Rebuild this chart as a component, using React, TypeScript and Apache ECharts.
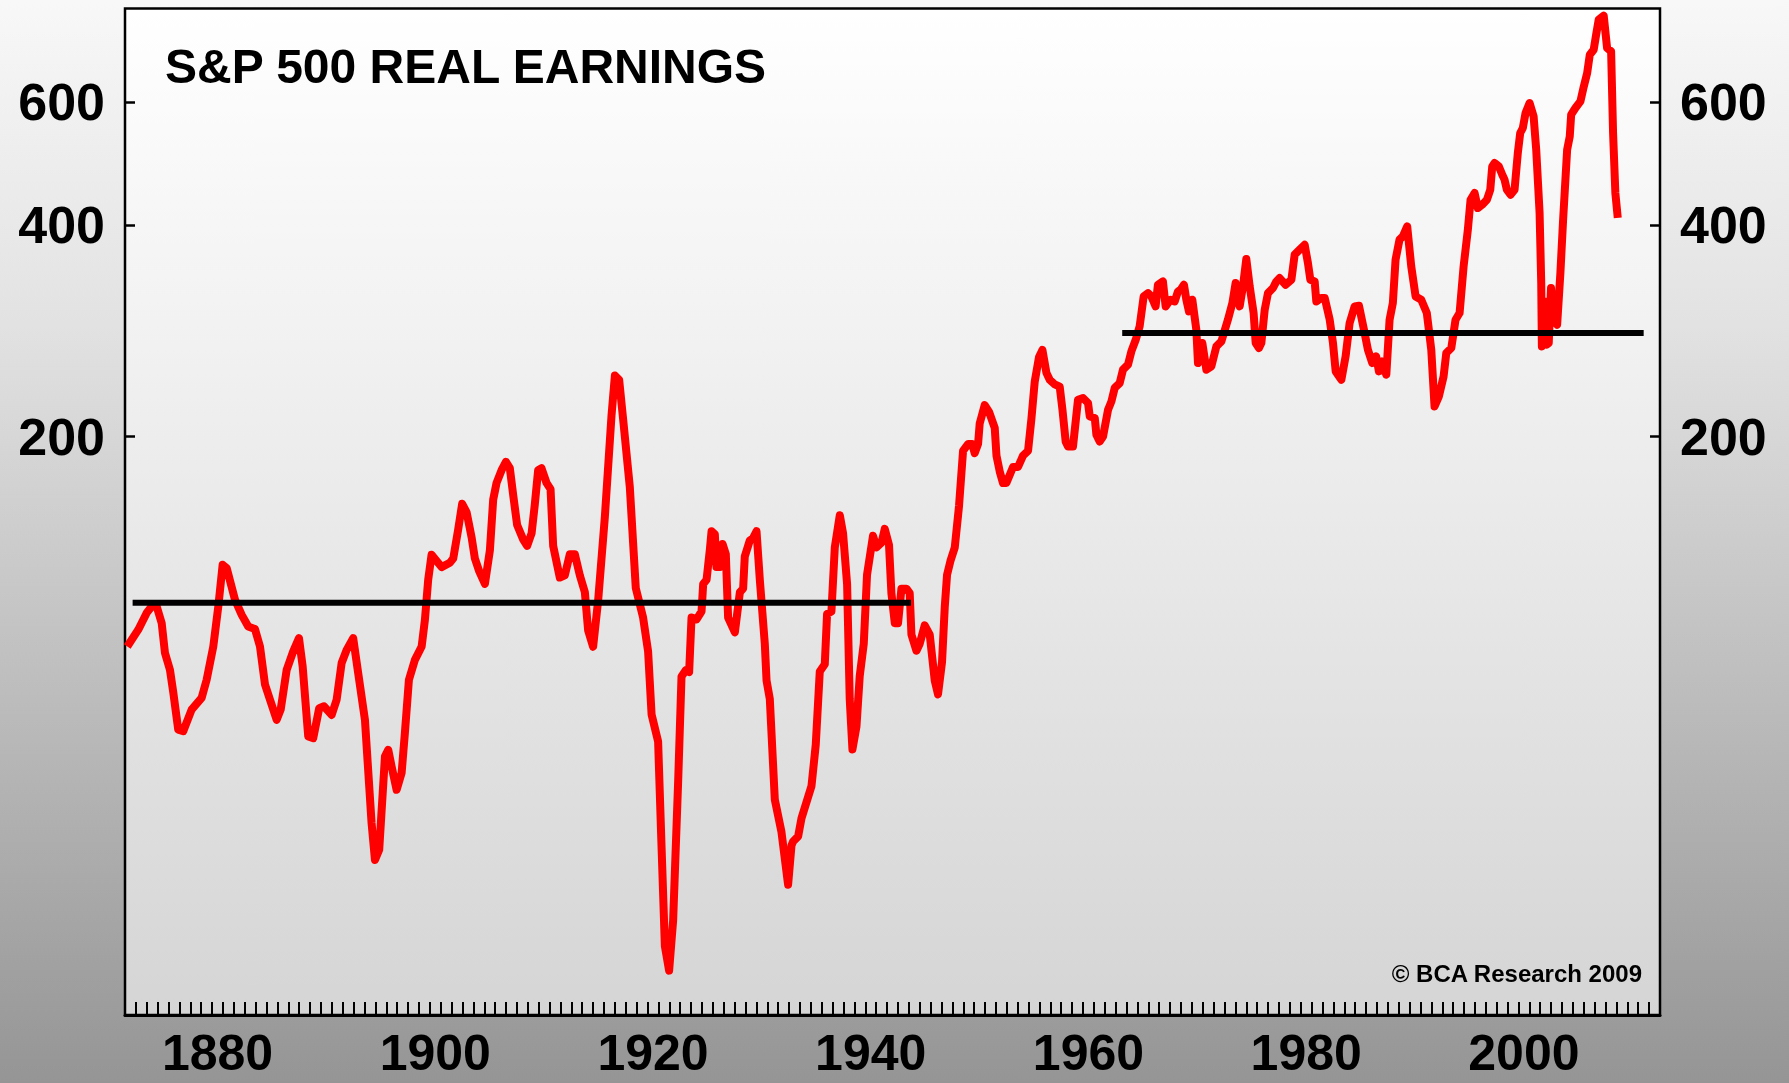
import React, { useEffect, useRef } from "react";
import * as echarts from "echarts";

// ---- Data ----
const years = [
  1872.21, 1873.22, 1873.99, 1874.45, 1874.91, 1875.37, 1875.67, 1876.13, 1876.44, 1876.89,
  1877.35, 1878.12, 1879.04, 1879.5, 1880.11, 1880.57, 1880.97, 1881.34, 1882.1, 1882.72,
  1883.32, 1883.94, 1884.4, 1884.86, 1885.32, 1885.93, 1886.3, 1886.85, 1887.45, 1887.98,
  1888.32, 1888.83, 1889.29, 1889.84, 1890.27, 1890.98, 1891.44, 1891.9, 1892.36, 1892.96,
  1893.42, 1894.04, 1894.65, 1894.96, 1895.35, 1895.88, 1896.18, 1896.49, 1896.95, 1897.41,
  1897.71, 1898.08, 1898.63, 1899.25, 1899.55, 1899.85, 1900.16, 1901.08, 1901.84, 1902.15,
  1902.61, 1902.97, 1903.38, 1903.84, 1904.14, 1904.54, 1905.06, 1905.52, 1905.82, 1906.13,
  1906.59, 1906.99, 1907.35, 1907.66, 1908.02, 1908.58, 1908.94, 1909.35, 1909.65, 1909.95,
  1910.26, 1910.72, 1911.09, 1911.33, 1911.94, 1912.4, 1912.86, 1913.32, 1913.78, 1914.24,
  1914.54, 1915.0, 1915.46, 1916.08, 1916.69, 1917.0, 1917.39, 1917.76, 1918.37, 1918.92,
  1919.59, 1920.05, 1920.37, 1920.97, 1921.28, 1921.59, 1921.98, 1922.35, 1922.81, 1923.12,
  1923.52, 1923.82, 1924.04, 1924.5, 1924.96, 1925.11, 1925.42, 1925.72, 1925.88, 1926.18,
  1926.33, 1926.48, 1926.64, 1926.89, 1927.19, 1927.4, 1928.02, 1928.48, 1928.78, 1928.93,
  1929.39, 1929.69, 1930.01, 1930.31, 1930.77, 1930.93, 1931.23, 1931.69, 1932.3, 1932.91,
  1933.22, 1933.37, 1933.83, 1934.14, 1935.06, 1935.45, 1935.82, 1936.28, 1936.49, 1936.89,
  1937.2, 1937.66, 1937.96, 1938.33, 1938.57, 1938.82, 1939.19, 1939.49, 1939.86, 1940.16,
  1940.71, 1941.03, 1941.49, 1941.79, 1942.18, 1942.4, 1942.71, 1943.01, 1943.32, 1943.78,
  1944.08, 1944.24, 1944.7, 1945.0, 1945.46, 1945.92, 1946.38, 1946.68, 1947.05, 1947.3,
  1947.51, 1947.82, 1948.22, 1948.61, 1948.98, 1949.44, 1949.81, 1950.05, 1950.36, 1950.51,
  1950.97, 1951.37, 1951.89, 1952.05, 1952.35, 1952.65, 1952.96, 1953.57, 1954.03, 1954.49,
  1954.95, 1955.26, 1955.56, 1955.96, 1956.27, 1956.64, 1956.94, 1957.4, 1957.86, 1958.11,
  1958.41, 1958.62, 1959.08, 1959.54, 1960.0, 1960.46, 1960.62, 1961.08, 1961.23, 1961.53,
  1961.84, 1962.3, 1962.61, 1962.91, 1963.37, 1963.67, 1964.13, 1964.44, 1964.84, 1965.2,
  1965.57, 1965.97, 1966.28, 1966.67, 1966.88, 1967.34, 1967.59, 1968.03, 1968.42, 1968.72,
  1968.97, 1969.27, 1969.49, 1969.73, 1970.04, 1970.41, 1970.56, 1970.96, 1971.33, 1971.79,
  1972.25, 1972.71, 1973.31, 1973.72, 1974.02, 1974.39, 1974.69, 1975.0, 1975.31, 1975.67,
  1975.86, 1976.16, 1976.38, 1976.69, 1976.99, 1977.45, 1977.76, 1978.06, 1978.61, 1979.14,
  1979.44, 1979.9, 1980.36, 1980.66, 1980.88, 1981.28, 1981.43, 1981.89, 1982.2, 1982.66,
  1982.96, 1983.21, 1983.73, 1984.12, 1984.49, 1984.95, 1985.35, 1985.87, 1986.17, 1986.57,
  1986.93, 1987.18, 1987.49, 1987.86, 1988.16, 1988.46, 1988.71, 1989.07, 1989.38, 1989.78,
  1990.15, 1990.55, 1991.07, 1991.58, 1991.99, 1992.29, 1992.69, 1993.12, 1993.37, 1993.83,
  1994.22, 1994.59, 1994.96, 1995.35, 1995.6, 1995.97, 1996.27, 1996.67, 1997.1, 1997.41,
  1997.59, 1997.8, 1998.2, 1998.51, 1998.72, 1998.93, 1999.27, 1999.64, 1999.94, 2000.16,
  2000.4, 2000.65, 2001.02, 2001.39, 2001.63, 2001.94, 2002.09, 2002.15, 2002.39, 2002.57,
  2002.78, 2002.99, 2003.23, 2003.55, 2003.85, 2004.1, 2004.47, 2004.71, 2004.84, 2005.23,
  2005.69, 2006.0, 2006.31, 2006.55, 2006.91, 2007.16, 2007.37, 2007.83, 2008.14, 2008.51,
  2008.69, 2008.9, 2009.12,
];

const earnings = [
  100.5, 106.2, 112.2, 114.6, 114.6, 108.5, 98.4, 93.1, 86.3, 76.5,
  76.1, 81.7, 84.9, 90.1, 100.5, 114.6, 131.4, 130.0, 117.2, 111.5,
  107.3, 106.4, 100.5, 88.7, 84.4, 79.0, 81.7, 93.1, 98.9, 103.3,
  94.1, 74.8, 74.4, 82.1, 82.6, 80.3, 84.4, 95.2, 99.4, 103.3,
  92.1, 79.0, 56.3, 49.9, 51.6, 70.1, 71.6, 67.8, 62.8, 66.4,
  75.7, 90.1, 96.2, 100.5, 109.7, 125.1, 135.8, 130.4, 132.3, 134.1,
  147.7, 160.5, 156.1, 143.7, 134.1, 128.6, 123.4, 137.9, 162.7, 171.9,
  179.2, 184.2, 180.4, 165.0, 149.7, 142.7, 139.8, 145.7, 160.5, 179.2,
  180.4, 171.9, 168.4, 139.8, 126.0, 126.9, 136.0, 136.0, 126.9, 120.1,
  106.0, 100.4, 116.8, 153.9, 214.4, 244.5, 241.1, 211.5, 169.6, 121.7,
  110.5, 98.9, 80.4, 73.6, 52.4, 37.6, 34.7, 40.9, 64.5, 91.1,
  93.0, 92.4, 110.5, 109.8, 112.8, 123.4, 125.1, 137.9, 146.7, 145.3,
  130.4, 139.8, 130.4, 140.7, 136.0, 110.5, 105.3, 120.1, 121.5, 135.0,
  142.3, 143.4, 146.7, 125.2, 101.4, 89.9, 84.6, 60.8, 54.7, 46.0,
  52.3, 53.0, 53.9, 57.2, 63.6, 72.8, 92.6, 94.8, 111.8, 112.7,
  139.1, 154.6, 145.6, 123.3, 84.6, 71.7, 77.3, 91.2, 101.4, 127.1,
  144.5, 139.1, 141.3, 147.8, 140.2, 119.7, 108.5, 108.5, 121.5, 121.5,
  119.7, 104.5, 99.1, 101.4, 107.7, 104.5, 89.9, 85.9, 95.5, 114.4,
  127.1, 133.0, 139.1, 159.3, 190.9, 195.3, 195.3, 189.5, 195.3, 208.9,
  221.9, 217.0, 205.9, 188.0, 178.4, 171.8, 171.8, 181.1, 181.1, 188.0,
  190.9, 212.1, 239.3, 259.9, 265.9, 246.6, 241.1, 237.5, 235.7, 218.6,
  196.7, 193.7, 193.7, 225.8, 227.1, 223.4, 213.8, 212.7, 201.3, 196.9,
  200.2, 218.5, 224.6, 234.7, 238.5, 249.2, 253.3, 264.6, 274.9, 287.2,
  316.9, 320.4, 316.9, 306.7, 329.3, 332.9, 306.7, 313.5, 311.7, 322.1,
  324.0, 329.3, 313.5, 301.7, 313.5, 284.1, 254.7, 272.0, 249.2, 251.9,
  269.0, 273.4, 293.6, 310.1, 331.2, 306.7, 327.5, 358.3, 327.5, 300.1,
  272.0, 267.6, 272.0, 303.4, 320.4, 325.8, 332.9, 336.6, 329.3, 334.8,
  363.4, 369.4, 375.5, 353.6, 334.8, 332.9, 311.7, 315.3, 315.3, 293.6,
  272.0, 247.8, 241.1, 260.3, 290.4, 306.7, 307.4, 281.0, 266.1, 254.7,
  260.3, 247.8, 256.0, 245.1, 293.6, 310.1, 357.5, 381.7, 385.9, 398.7,
  349.7, 316.9, 313.5, 300.1, 266.1, 220.9, 228.3, 243.7, 263.2, 267.6,
  293.6, 300.1, 349.7, 394.4, 435.2, 444.9, 423.5, 428.2, 435.2, 449.8,
  485.5, 490.9, 485.5, 472.4, 464.8, 449.8, 442.4, 449.8, 507.3, 541.7,
  550.7, 578.4, 597.7, 572.0, 512.8, 416.6, 331.2, 269.0, 311.7, 270.5,
  272.0, 325.8, 293.6, 288.8, 342.2, 407.6, 512.8, 535.7, 575.2, 588.0,
  600.9, 631.2, 659.5, 700.4, 712.0, 752.1, 785.6, 795.9, 715.9, 708.0,
  541.7, 444.9, 409.9,
];

// Period averages (horizontal black lines)
const avgStartYears = [1872.7, 1963.6];
const avgEndYears = [1944.2, 2011.5];
const avgValues = [116, 281];

// Axes
const xLabelYears = [1880, 1900, 1920, 1940, 1960, 1980, 2000];
const yTickValues = [200, 400, 600];
const X_MIN = 1872;
const X_MAX = 2013;
const Y_MIN = 30;
const Y_MAX = 815;

const W = 1789;
const H = 1083;
const FONT = '"Liberation Sans", Arial, Helvetica, sans-serif';

export default function App() {
  const ref = useRef<HTMLDivElement>(null);

  useEffect(() => {
    if (!ref.current) return;
    const chart = echarts.init(ref.current, null, { renderer: "svg", width: W, height: H });
    const ln = Math.log;

    const tickYears: number[] = [];
    for (let y = X_MIN + 1; y < X_MAX; y++) tickYears.push(y);

    const yAxisFor = (position: "left" | "right") => ({
      type: "value",
      position,
      min: ln(Y_MIN),
      max: ln(Y_MAX),
      axisLine: { show: false },
      splitLine: { show: false },
      axisTick: {
        show: true,
        inside: true,
        length: 10,
        customValues: yTickValues.map((v) => ln(v)),
        lineStyle: { color: "#000", width: 2.5 },
      },
      axisLabel: {
        customValues: yTickValues.map((v) => ln(v)),
        formatter: (v: number) => String(Math.round(Math.exp(v))),
        color: "#000",
        fontFamily: FONT,
        fontWeight: "bold",
        fontSize: 52,
        margin: 20,
      },
    });

    const avgSeries = avgValues.map((v, i) => ({
      type: "line",
      data: [
        [avgStartYears[i], ln(v)],
        [avgEndYears[i], ln(v)],
      ],
      symbol: "none",
      showSymbol: false,
      silent: true,
      z: 4,
      lineStyle: { color: "#000", width: 6, cap: "butt" },
    }));

    chart.setOption({
      animation: false,
      backgroundColor: "transparent",
      grid: {
        left: 125,
        right: W - 1660,
        top: 8.5,
        bottom: H - 1015,
        show: true,
        borderColor: "#000",
        borderWidth: 2.5,
        backgroundColor: {
          type: "linear",
          x: 0,
          y: 0,
          x2: 0,
          y2: 1,
          colorStops: [
            { offset: 0, color: "#ffffff" },
            { offset: 1, color: "#d5d5d5" },
          ],
        },
      },
      xAxis: {
        type: "value",
        min: X_MIN,
        max: X_MAX,
        splitLine: { show: false },
        axisLine: { show: true, onZero: false, lineStyle: { color: "#000", width: 3 } },
        axisTick: {
          show: true,
          inside: true,
          length: 13,
          customValues: tickYears,
          lineStyle: { color: "#000", width: 2 },
        },
        axisLabel: {
          customValues: xLabelYears.map((y) => y + 0.5),
          formatter: (v: number) => String(Math.floor(v)),
          color: "#000",
          fontFamily: FONT,
          fontWeight: "bold",
          fontSize: 50,
          lineHeight: 42,
          margin: 17,
        },
      },
      yAxis: [yAxisFor("left"), yAxisFor("right")],
      graphic: [
        {
          type: "rect",
          z: -100,
          silent: true,
          shape: { x: 0, y: 0, width: W, height: H },
          style: {
            fill: {
              type: "linear",
              x: 0,
              y: 0,
              x2: 0,
              y2: 1,
              colorStops: [
                { offset: 0, color: "#f8f8f8" },
                { offset: 0.3, color: "#e2e2e2" },
                { offset: 1, color: "#959595" },
              ],
            },
          },
        },
        {
          type: "text",
          z: 10,
          x: 165,
          y: 66,
          style: {
            text: "S&P 500 REAL EARNINGS",
            font: `bold 48px ${FONT}`,
            fill: "#000",
            align: "left",
            textAlign: "left",
            verticalAlign: "middle",
            textVerticalAlign: "middle",
          },
        },
        {
          type: "text",
          z: 10,
          x: 1642,
          y: 973,
          style: {
            text: "© BCA Research 2009",
            font: `bold 24px ${FONT}`,
            fill: "#000",
            align: "right",
            textAlign: "right",
            verticalAlign: "middle",
            textVerticalAlign: "middle",
          },
        },
      ],
      series: [
        {
          type: "line",
          data: years.map((y, i) => [y, ln(earnings[i])]),
          symbol: "none",
          showSymbol: false,
          silent: true,
          z: 3,
          lineStyle: { color: "#ff0000", width: 8, join: "round", cap: "butt" },
        },
        ...avgSeries,
      ],
    });

    return () => chart.dispose();
  }, []);

  return (
    <div
      ref={ref}
      style={{ position: "fixed", left: 0, top: 0, width: W, height: H }}
    />
  );
}
